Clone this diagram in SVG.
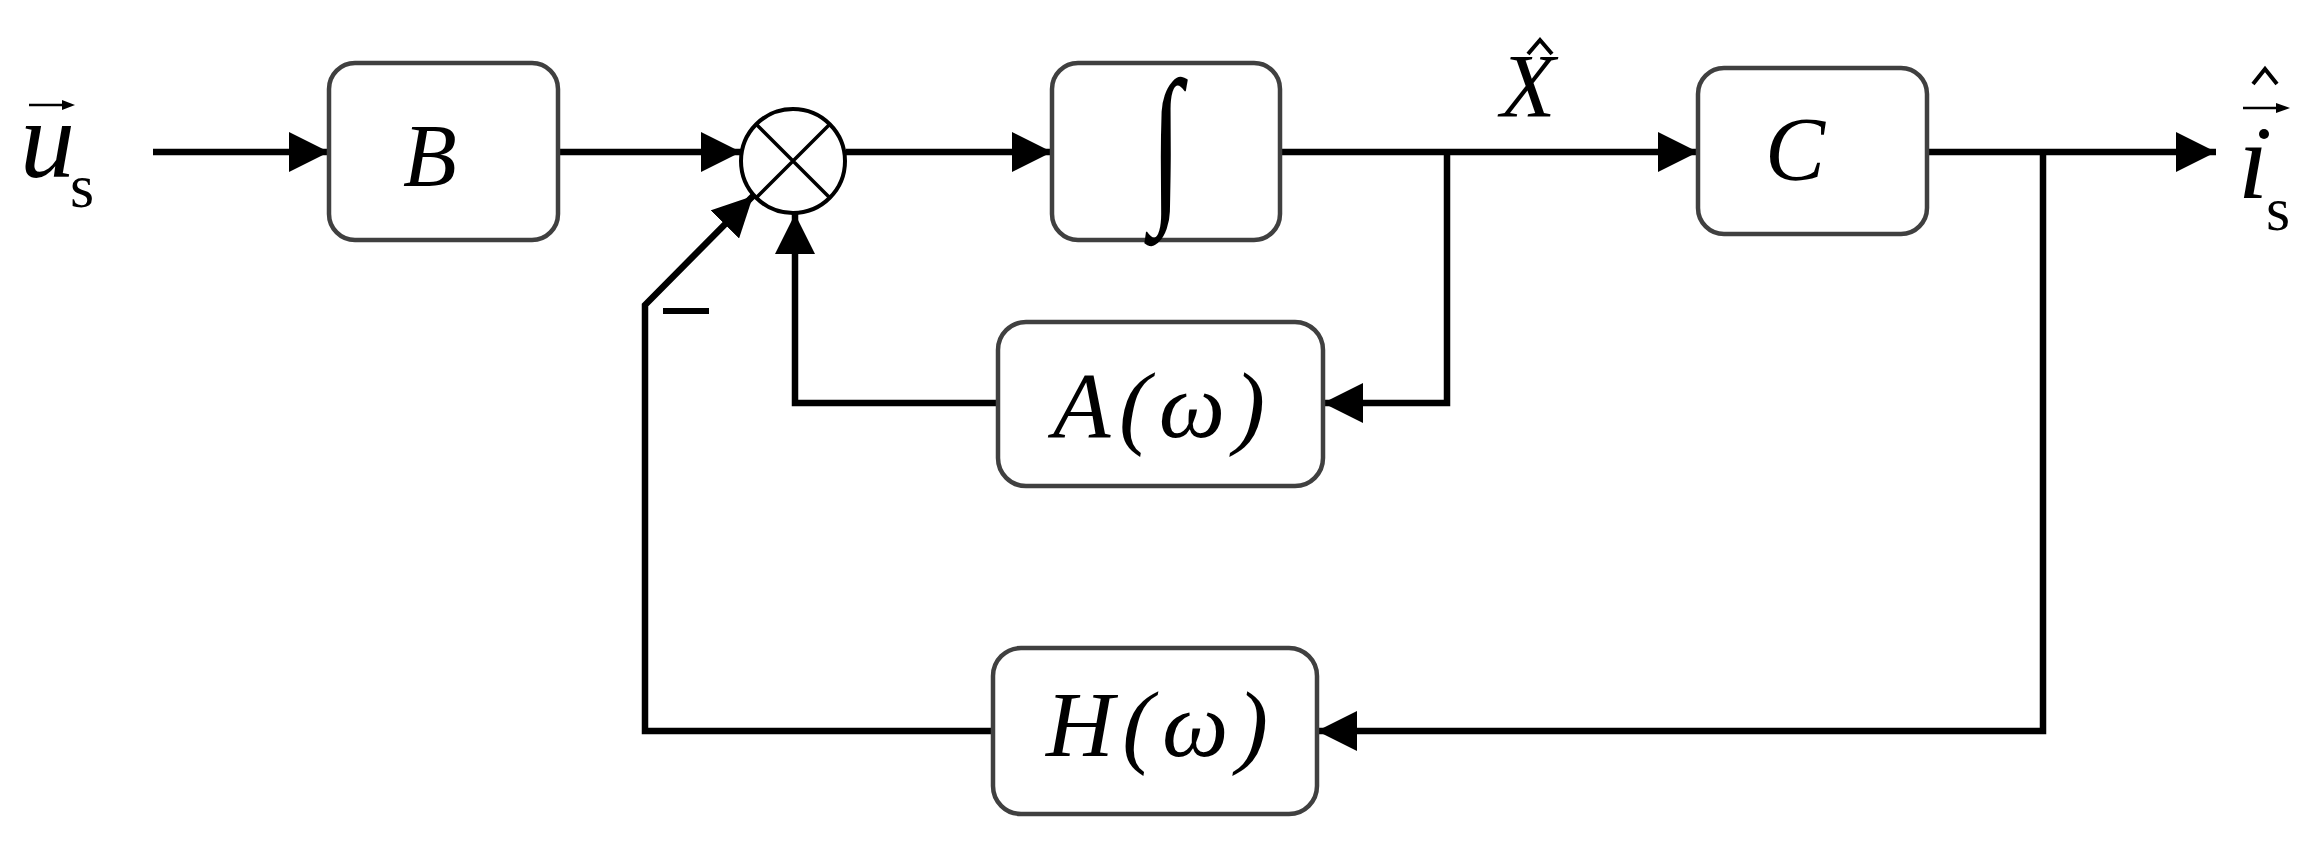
<svg xmlns="http://www.w3.org/2000/svg" width="2310" height="841" viewBox="0 0 2310 841">
<style>
.box{fill:#fff;stroke:#404040;stroke-width:4.5}
.ln{fill:none;stroke:#000;stroke-width:6.5;stroke-linejoin:miter}
.t{font-family:"Liberation Serif",serif;font-style:italic;fill:#000}
.r{font-family:"Liberation Serif",serif;fill:#000}
.hat{fill:none;stroke:#000;stroke-width:4}
</style>
<defs>
<marker id="ah" viewBox="0 0 40 40" refX="40" refY="20" markerWidth="40" markerHeight="40" markerUnits="userSpaceOnUse" orient="auto">
<path d="M0,0 L40,20 L0,40 Z" fill="#000"/>
</marker>
</defs>
<g id="connectors">
<path class="ln" d="M153,152 H329" marker-end="url(#ah)"/>
<path class="ln" d="M558,152 H741" marker-end="url(#ah)"/>
<path class="ln" d="M846,152 H1052" marker-end="url(#ah)"/>
<path class="ln" d="M1280,152 H1698" marker-end="url(#ah)"/>
<path class="ln" d="M1447,152 V403 H1323" marker-end="url(#ah)"/>
<path class="ln" d="M998,403 H795 V214" marker-end="url(#ah)"/>
<path class="ln" d="M1927,152 H2216" marker-end="url(#ah)"/>
<path class="ln" d="M2043,152 V731 H1317" marker-end="url(#ah)"/>
<path class="ln" d="M993,731 H645 V305 L753,196" marker-end="url(#ah)"/>
<line x1="663" y1="311" x2="709" y2="311" stroke="#000" stroke-width="6"/>
</g>
<g id="input">
<text class="t" x="20" y="177" font-size="110">u</text>
<text class="r" x="70" y="207" font-size="62">s</text>
<path d="M29,105 H68" stroke="#000" stroke-width="2.5"/>
<path d="M62,100 L75,105 L62,110 Z" fill="#000"/>
</g>
<g id="B">
<rect class="box" x="329" y="63" width="229" height="177" rx="26"/>
<text class="t" x="430" y="185" font-size="88" text-anchor="middle">B</text>
</g>
<g id="sum">
<ellipse cx="793" cy="161" rx="52" ry="52" fill="#fff" stroke="#000" stroke-width="4"/>
<path d="M756,124 L830,198 M830,124 L756,198" stroke="#000" stroke-width="3.5"/>
</g>
<g id="integrator">
<rect class="box" x="1052" y="63" width="228" height="177" rx="26"/>
<text class="t" x="1166" y="200" font-size="115" text-anchor="middle" transform="translate(0,-100) scale(1,1.5)" style="font-style:normal">∫</text>
</g>
<g id="xhat">
<text class="t" x="1528" y="117" font-size="90" text-anchor="middle">X</text>
<path class="hat" d="M1528,54 L1540,40 L1552,54"/>
</g>
<g id="C">
<rect class="box" x="1698" y="68" width="229" height="166" rx="26"/>
<text class="t" x="1795" y="180" font-size="90" text-anchor="middle">C</text>
</g>
<g id="output">
<text class="t" x="2238" y="198" font-size="110">ı</text>
<circle cx="2264" cy="134" r="5" fill="#000"/>
<path d="M2243,108 H2282" stroke="#000" stroke-width="2.5"/>
<path d="M2276,103 L2290,108 L2276,113 Z" fill="#000"/>
<path class="hat" d="M2253,84 L2265,69 L2277,84"/>
<text class="r" x="2266" y="230" font-size="62">s</text>
</g>
<g id="A">
<rect class="box" x="998" y="322" width="325" height="164" rx="28"/>
<text class="t" x="1159" y="437" font-size="94" text-anchor="middle" textLength="212" lengthAdjust="spacing">A(ω)</text>
</g>
<g id="H">
<rect class="box" x="993" y="648" width="324" height="166" rx="28"/>
<text class="t" x="1157" y="756" font-size="94" text-anchor="middle" textLength="222" lengthAdjust="spacing">H(ω)</text>
</g>
</svg>
